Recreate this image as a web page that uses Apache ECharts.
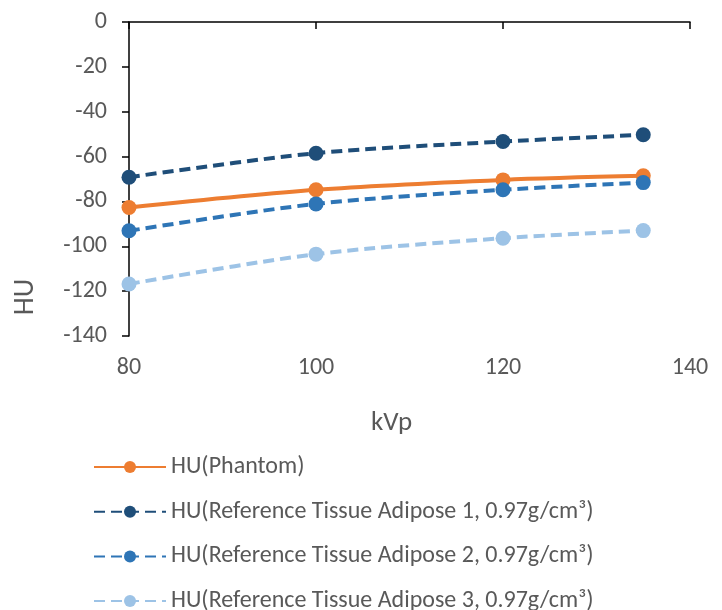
<!DOCTYPE html>
<html><head><meta charset="utf-8">
<script src="https://cdn.jsdelivr.net/npm/echarts@6/dist/echarts.min.js"></script>
<style>html,body{margin:0;padding:0;background:#fff}#c{width:722px;height:610px}</style>
</head><body><div id="c"></div>
<script>
const kvp = [80, 100, 120, 135];
const seriesNames = ['HU(Phantom)', 'HU(Reference Tissue Adipose 1, 0.97g/cm³)', 'HU(Reference Tissue Adipose 2, 0.97g/cm³)', 'HU(Reference Tissue Adipose 3, 0.97g/cm³)'];
const phantom = [-82.7, -74.8, -70.4, -68.6];
const adipose1 = [-69.2, -58.5, -53.3, -50.3];
const adipose2 = [-93.1, -81.1, -74.8, -71.6];
const adipose3 = [-116.8, -103.5, -96.4, -93.0];
const xTitle = 'kVp';
const yTitle = 'HU';
const colors = ['#ED7D31', '#1F4E79', '#2E75B6', '#9DC3E6'];
const values = [phantom, adipose1, adipose2, adipose3];
const font = "Carlito, 'Liberation Sans', sans-serif";
const txt = '#595959';
const chart = echarts.init(document.getElementById('c'));
chart.setOption({
  animation: false,
  grid: {left: 129, right: 32, top: 22, bottom: 274, containLabel: false},
  xAxis: [
    {type: 'value', position: 'top', min: 80, max: 140, interval: 20,
     axisLine: {show: true, lineStyle: {color: '#000', width: 1.5}},
     axisTick: {show: true, inside: true, length: 7, lineStyle: {color: '#000', width: 1.5}},
     axisLabel: {show: false}, splitLine: {show: false}},
    {type: 'value', position: 'bottom', min: 80, max: 140, interval: 20,
     axisLine: {show: false}, axisTick: {show: false}, splitLine: {show: false},
     axisLabel: {show: true, color: txt, fontSize: 24, fontFamily: font, margin: 20}}
  ],
  yAxis: {type: 'value', min: -140, max: 0, interval: 20,
    axisLine: {show: true, lineStyle: {color: '#000', width: 1.5}},
    axisTick: {show: true, length: 7, lineStyle: {color: '#000', width: 1.5}},
    splitLine: {show: false},
    axisLabel: {color: txt, fontSize: 24, fontFamily: font, margin: 22}},
  graphic: [
    {type: 'text', left: 392 - 21, top: 410, style: {text: xTitle, fill: txt, font: "27px " + font}},
    {type: 'text', x: 26, y: 297, rotation: Math.PI / 2, style: {text: yTitle, fill: txt, font: "29px " + font, align: 'center', verticalAlign: 'middle'}}
  ],
  legend: {orient: 'vertical', left: 93, top: 455, width: 620, height: 260, itemWidth: 72, itemHeight: 15, itemGap: 20.7, padding: 0,
    textStyle: {color: txt, fontSize: 24, fontFamily: font, padding: [0, 0, 0, 0]},
    data: seriesNames},
  series: values.map((v, i) => ({
    name: seriesNames[i], type: 'line', xAxisIndex: 0, smooth: 0.3,
    data: kvp.map((k, j) => [k, v[j]]),
    symbol: 'circle', symbolSize: 15,
    itemStyle: {color: colors[i]},
    lineStyle: {color: colors[i], width: 4, type: i === 0 ? 'solid' : [11, 6]}
  }))
});
</script></body></html>
